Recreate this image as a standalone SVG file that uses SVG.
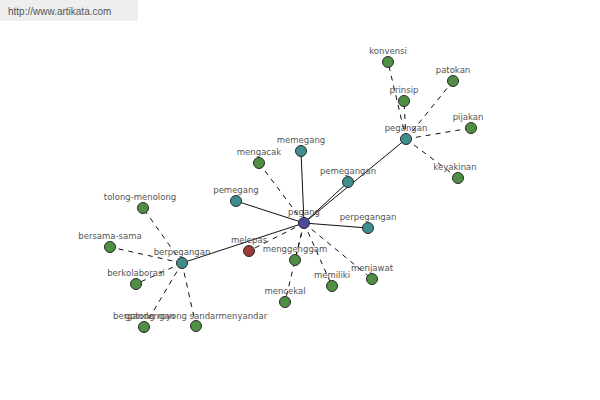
<svg xmlns="http://www.w3.org/2000/svg" width="600" height="400" viewBox="0 0 600 400">
<style>
text{font-family:"DejaVu Sans","Liberation Sans",sans-serif;font-size:8.5px;fill:#555;text-anchor:middle}
.n{stroke:#2a2a2a;stroke-width:1}
.g{fill:#4f8f44}.t{fill:#3f8d8f}.b{fill:#4a4aa0}.r{fill:#9c3b3b}
.s{stroke:#111;stroke-width:1;fill:none}
.d{stroke:#111;stroke-width:1;fill:none;stroke-dasharray:5 5}
</style>
<rect width="600" height="400" fill="#fff"/>
<rect x="0" y="0" width="138" height="21" fill="#eeeeee"/>
<text x="8" y="15" style="text-anchor:start;font-family:'Liberation Sans',sans-serif;font-size:10px;fill:#555">http://www.artikata.com</text>
<g id="connectors">
<line class="s" x1="304" y1="223" x2="406" y2="139"/>
<line class="s" x1="304" y1="223" x2="348" y2="182"/>
<line class="s" x1="304" y1="223" x2="301" y2="151"/>
<line class="s" x1="304" y1="223" x2="236" y2="201"/>
<line class="s" x1="304" y1="223" x2="368" y2="228"/>
<line class="s" x1="304" y1="223" x2="182" y2="263"/>
<line class="d" x1="304" y1="223" x2="259" y2="163"/>
<line class="d" x1="304" y1="223" x2="249" y2="251" stroke-dasharray="2 2"/>
<line class="d" x1="304" y1="223" x2="295" y2="260"/>
<line class="d" x1="304" y1="223" x2="285" y2="302"/>
<line class="d" x1="304" y1="223" x2="332" y2="286"/>
<line class="d" x1="304" y1="223" x2="372" y2="279"/>
<line class="d" x1="406" y1="139" x2="388" y2="62"/>
<line class="d" x1="406" y1="139" x2="404" y2="101"/>
<line class="d" x1="406" y1="139" x2="453" y2="81"/>
<line class="d" x1="406" y1="139" x2="471" y2="128"/>
<line class="d" x1="406" y1="139" x2="458" y2="178"/>
<line class="d" x1="182" y1="263" x2="143" y2="208"/>
<line class="d" x1="182" y1="263" x2="110" y2="247"/>
<line class="d" x1="182" y1="263" x2="136" y2="284"/>
<line class="d" x1="182" y1="263" x2="144" y2="327"/>
<line class="d" x1="182" y1="263" x2="196" y2="326"/>
</g>
<g id="n-pegang"><circle class="n b" cx="304" cy="223" r="5.5"/><text x="304" y="215">pegang</text></g>
<g id="n-pegangan"><circle class="n t" cx="406" cy="139" r="5.5"/><text x="406" y="131">pegangan</text></g>
<g id="n-pemegangan"><circle class="n t" cx="348" cy="182" r="5.5"/><text x="348" y="174">pemegangan</text></g>
<g id="n-memegang"><circle class="n t" cx="301" cy="151" r="5.5"/><text x="301" y="143">memegang</text></g>
<g id="n-pemegang"><circle class="n t" cx="236" cy="201" r="5.5"/><text x="236" y="193">pemegang</text></g>
<g id="n-perpegangan"><circle class="n t" cx="368" cy="228" r="5.5"/><text x="368" y="220">perpegangan</text></g>
<g id="n-berpegangan"><circle class="n t" cx="182" cy="263" r="5.5"/><text x="182" y="255">berpegangan</text></g>
<g id="n-melepas"><circle class="n r" cx="249" cy="251" r="5.5"/><text x="249" y="243">melepas</text></g>
<g id="n-mengacak"><circle class="n g" cx="259" cy="163" r="5.5"/><text x="259" y="155">mengacak</text></g>
<g id="n-menggenggam"><circle class="n g" cx="295" cy="260" r="5.5"/><text x="295" y="252">menggenggam</text></g>
<g id="n-memiliki"><circle class="n g" cx="332" cy="286" r="5.5"/><text x="332" y="278">memiliki</text></g>
<g id="n-menjawat"><circle class="n g" cx="372" cy="279" r="5.5"/><text x="372" y="271">menjawat</text></g>
<g id="n-mencekal"><circle class="n g" cx="285" cy="302" r="5.5"/><text x="285" y="294">mencekal</text></g>
<g id="n-konvensi"><circle class="n g" cx="388" cy="62" r="5.5"/><text x="388" y="54">konvensi</text></g>
<g id="n-patokan"><circle class="n g" cx="453" cy="81" r="5.5"/><text x="453" y="73">patokan</text></g>
<g id="n-prinsip"><circle class="n g" cx="404" cy="101" r="5.5"/><text x="404" y="93">prinsip</text></g>
<g id="n-pijakan"><circle class="n g" cx="471" cy="128" r="5.5"/><text x="468" y="120">pijakan</text></g>
<g id="n-keyakinan"><circle class="n g" cx="458" cy="178" r="5.5"/><text x="455" y="170">keyakinan</text></g>
<g id="n-tolong-menolong"><circle class="n g" cx="143" cy="208" r="5.5"/><text x="140" y="200">tolong-menolong</text></g>
<g id="n-bersama-sama"><circle class="n g" cx="110" cy="247" r="5.5"/><text x="110" y="239">bersama-sama</text></g>
<g id="n-berkolaborasi"><circle class="n g" cx="136" cy="284" r="5.5"/><text x="136" y="276">berkolaborasi</text></g>
<g id="n-bergandengan"><circle class="n g" cx="144" cy="327" r="5.5"/><text x="144" y="319">bergandengan</text></g>
<g id="n-gotong-royong"><circle class="n g" cx="196" cy="326" r="5.5"/><text x="196" y="319">gotong royong sandarmenyandar</text></g>
</svg>
